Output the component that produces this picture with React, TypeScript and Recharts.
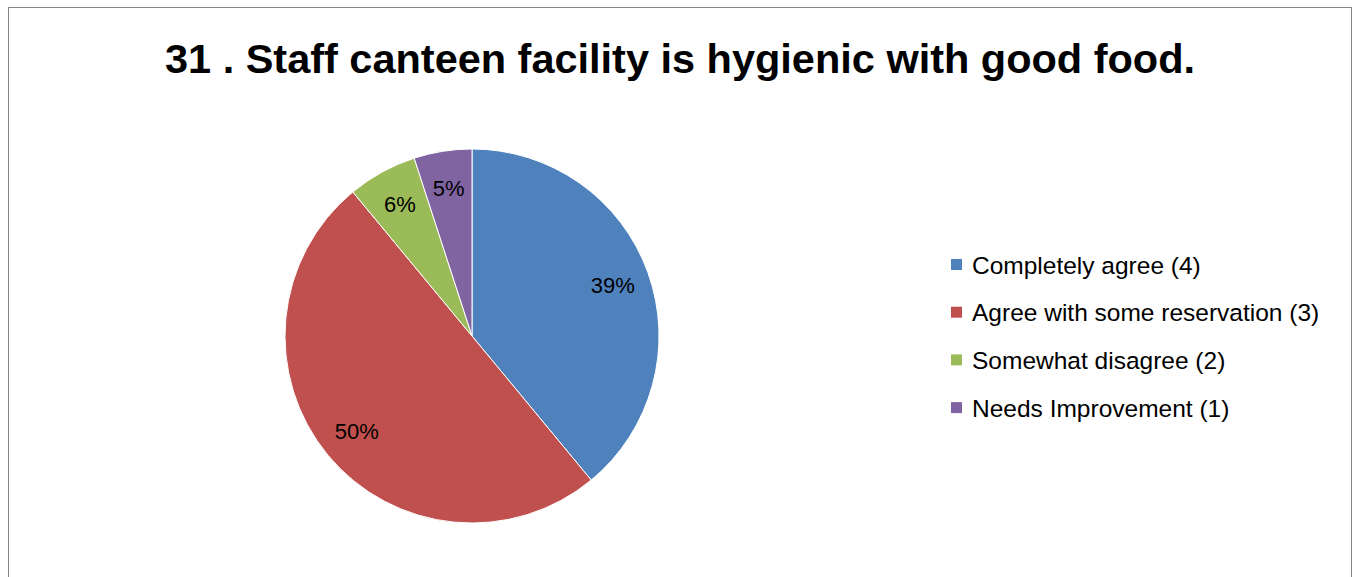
import React from 'react';
import { PieChart, Pie, Cell, Legend } from 'recharts';

const categories = [
  'Completely agree (4)',
  'Agree with some reservation (3)',
  'Somewhat disagree (2)',
  'Needs Improvement (1)',
];
const shares = [39, 50, 6, 5];
const colors = ['#4F81BD', '#C0504D', '#9BBB59', '#8064A2'];
const title = '31 . Staff canteen facility is hygienic with good food.';

const data = categories.map((name, i) => ({ name, value: shares[i] }));

const RAD = Math.PI / 180;

const renderLabel = (props: any) => {
  const { cx, cy, midAngle, outerRadius, value } = props;
  const r = outerRadius * 0.8;
  const x = cx + r * Math.cos(-midAngle * RAD);
  const y = cy + r * Math.sin(-midAngle * RAD);
  return (
    <text
      x={x}
      y={y}
      fill="#000"
      fontSize={22}
      fontFamily="'Liberation Sans', Arial, sans-serif"
      textAnchor="middle"
      dominantBaseline="central"
    >
      {`${value}%`}
    </text>
  );
};

const renderLegend = () => (
  <svg width={420} height={200}>
    {categories.map((name, i) => (
      <g key={name}>
        <rect x={11} y={19 + i * 47.7} width={11} height={11} fill={colors[i]} />
        <text
          x={32}
          y={25 + i * 47.7}
          fontSize={24.5}
          fontFamily="'Liberation Sans', Arial, sans-serif"
          fill="#000"
          dominantBaseline="central"
        >
          {name}
        </text>
      </g>
    ))}
  </svg>
);

const App: React.FC = () => {
  return (
    <div
      style={{
        position: 'fixed',
        left: 8,
        top: 7,
        width: 1344,
        height: 580,
        border: '1px solid #868686',
        boxSizing: 'border-box',
        background: '#fff',
      }}
    >
      <svg
        width={1342}
        height={100}
        style={{ position: 'absolute', left: 0, top: 0 }}
      >
        <text
          x={671}
          y={65}
          textAnchor="middle"
          fontSize={40}
          fontWeight="bold"
          fontFamily="'Liberation Sans', Arial, sans-serif"
          fill="#000"
          textLength={1030}
          lengthAdjust="spacingAndGlyphs"
        >
          {title}
        </text>
      </svg>
      <div style={{ position: 'absolute', left: 0, top: 0 }}>
        <PieChart width={1342} height={570} margin={{ top: 0, right: 0, bottom: 0, left: 0 }}>
          <Pie
            data={data}
            dataKey="value"
            nameKey="name"
            cx={463}
            cy={328}
            outerRadius={187}
            startAngle={90}
            endAngle={-270}
            stroke="#fff"
            strokeWidth={1}
            label={renderLabel}
            labelLine={false}
            isAnimationActive={false}
          >
            {data.map((d, i) => (
              <Cell key={d.name} fill={colors[i]} />
            ))}
          </Pie>
          <Legend
            content={renderLegend}
            wrapperStyle={{ position: 'absolute', left: 931, top: 232, width: 420 }}
          />
        </PieChart>
      </div>
    </div>
  );
};

export default App;
